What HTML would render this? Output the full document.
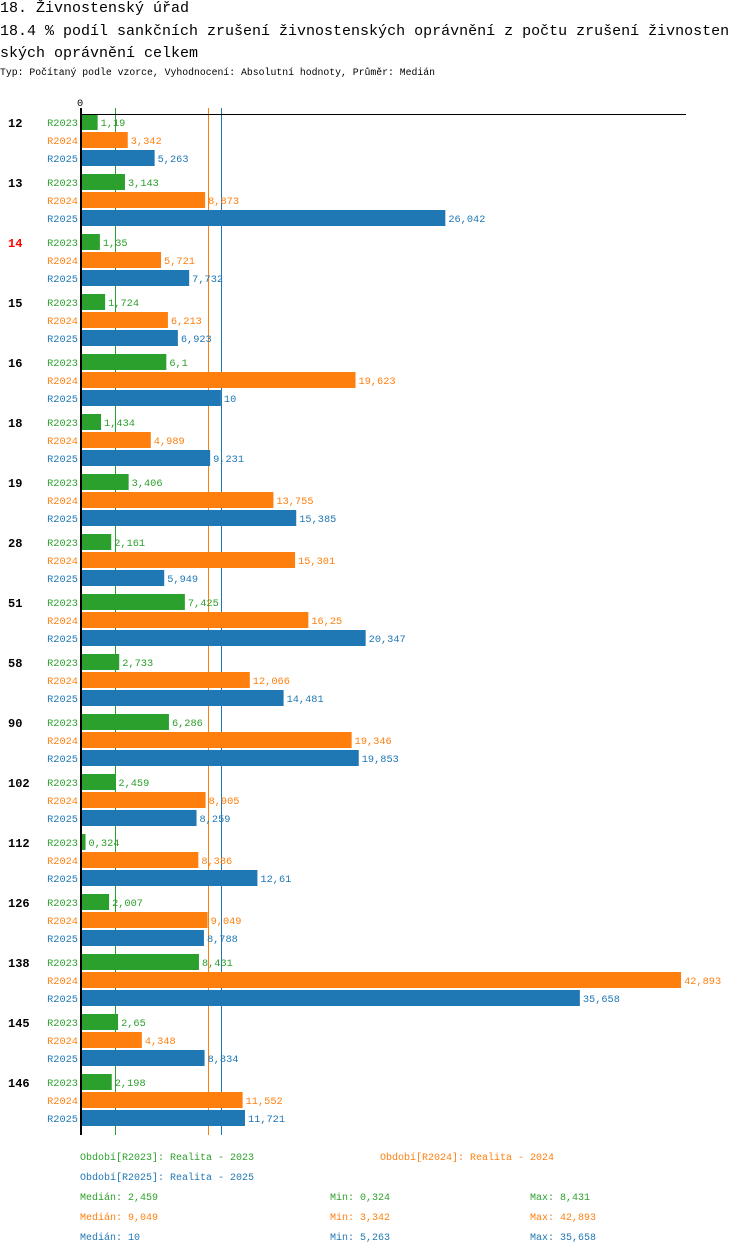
<!DOCTYPE html>
<html><head><meta charset="utf-8"><style>
body{margin:0;background:#fff;width:750px;height:1254px;overflow:hidden;font-family:"Liberation Mono",monospace}
.t{position:absolute;left:0;white-space:nowrap;color:#000}
</style></head><body>
<div class="t" style="top:0;font-size:15px;">18. Živnostenský úřad</div>
<div class="t" style="top:21px;font-size:15px;line-height:22px;">18.4 % podíl sankčních zrušení živnostenských oprávnění z počtu zrušení živnosten<br>ských oprávnění  celkem</div>
<div class="t" style="top:67px;font-size:9.8px;">Typ: Počítaný podle vzorce, Vyhodnocení: Absolutní hodnoty, Průměr: Medián</div>
<svg id="c" width="750" height="1254" style="position:absolute;left:0;top:0" font-family="Liberation Mono, monospace"></svg>
<script>
const groups=["12","13","14","15","16","18","19","28","51","58","90","102","112","126","138","145","146"];
const r2023=[1.19,3.143,1.35,1.724,6.1,1.434,3.406,2.161,7.425,2.733,6.286,2.459,0.324,2.007,8.431,2.65,2.198];
const r2024=[3.342,8.873,5.721,6.213,19.623,4.989,13.755,15.301,16.25,12.066,19.346,8.905,8.386,9.049,42.893,4.348,11.552];
const r2025=[5.263,26.042,7.732,6.923,10,9.231,15.385,5.949,20.347,14.481,19.853,8.259,12.61,8.788,35.658,8.834,11.721];
const seriesNames=["R2023","R2024","R2025"];
const medians=[2.459,9.049,10];
const mins=[0.324,3.342,5.263];
const maxs=[8.431,42.893,35.658];
const colors=["#2ca02c","#ff7f0e","#1f77b4"];
const svg=document.getElementById('c');
const NS="http://www.w3.org/2000/svg";
const x=v=>81+v*13.99;
function el(t,a,txt){const e=document.createElementNS(NS,t);for(const k in a)e.setAttribute(k,a[k]);if(txt!=null)e.textContent=txt;svg.appendChild(e);return e;}
const fmt=v=>String(v).replace('.',',');
const data=[r2023,r2024,r2025];
medians.forEach((m,j)=>{
  const px=Math.round(x(m))+0.5;
  let l=el('line',{x1:px,x2:px,y1:108,y2:1135,stroke:colors[j],'stroke-width':1});
  
  
});
groups.forEach((g,i)=>{
  const top=114+60*i;
  let t=el('text',{x:8,y:top+13,'font-size':12,'font-weight':'bold',fill:g==="14"?"#ff0000":"#000"},g);
  
  
  data.forEach((s,j)=>{
    const y=top+18*j;
    let l=el('text',{x:78,y:y+12,'font-size':10.3,fill:colors[j],'text-anchor':'end'},seriesNames[j]);
    
    
    let r=el('rect',{x:82,y:y,width:Math.max(0,x(s[i])-82),height:16,fill:colors[j]});
    
    
    let v=el('text',{x:x(s[i])+3,y:y+12,'font-size':10.3,fill:colors[j]},fmt(s[i]));
    
    
  });
});
let ax=el('line',{x1:81,x2:686,y1:114.5,y2:114.5,stroke:'#000','stroke-width':1});


let ay=el('line',{x1:81,x2:81,y1:108,y2:1135,stroke:'#000','stroke-width':2});


let z=el('text',{x:77,y:106,'font-size':10.3,fill:'#000'},'0');


const legends=[["Období[R2023]: Realita - 2023",80,1160,0],["Období[R2024]: Realita - 2024",380,1160,1],["Období[R2025]: Realita - 2025",80,1180,2]];
legends.forEach(a=>{
  let t=el('text',{x:a[1],y:a[2],'font-size':10,fill:colors[a[3]]},a[0]);
  
  
});
[0,1,2].forEach(j=>{
  const y=1200+20*j;
  let a=el('text',{x:80,y:y,'font-size':10,fill:colors[j]},'Medián: '+fmt(medians[j]));
  
  
  let b=el('text',{x:330,y:y,'font-size':10,fill:colors[j]},'Min: '+fmt(mins[j]));
  
  
  let c=el('text',{x:530,y:y,'font-size':10,fill:colors[j]},'Max: '+fmt(maxs[j]));
  
  
});
</script>
</body></html>
